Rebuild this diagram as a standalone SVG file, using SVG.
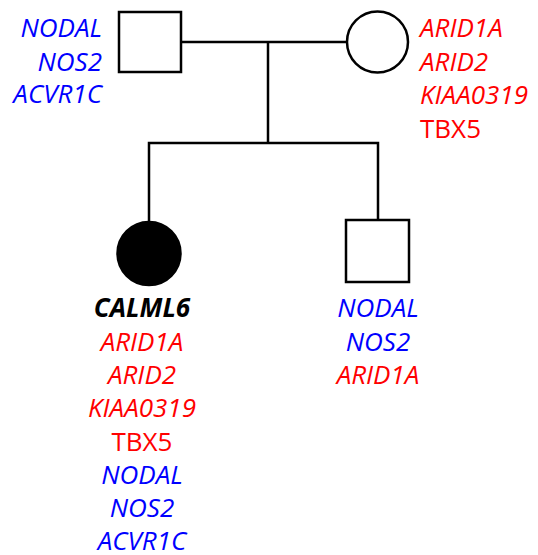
<svg xmlns="http://www.w3.org/2000/svg" width="538" height="555" viewBox="0 0 538 555">
<style>
.ln{fill:none;stroke:#000;stroke-width:2.5}
.sym{fill:#fff;stroke:#000;stroke-width:2.5}
.aff{fill:#000;stroke:#000;stroke-width:2.5}
text{font-family:"Open Sans","Liberation Sans",sans-serif;font-size:26px}
.b{fill:#0000ff;font-style:italic}
.r{fill:#ff0000;font-style:italic}
.rn{fill:#ff0000}
.k{fill:#000;font-style:italic;font-weight:bold}
</style>
<rect width="538" height="555" fill="#fff"/>
<g id="connectors">
<line class="ln" x1="181" y1="42" x2="347" y2="42"/>
<line class="ln" x1="268" y1="42" x2="268" y2="143"/>
<polyline class="ln" points="149,222 149,143 378,143 378,220"/>
</g>
<g id="father">
<rect class="sym" x="119" y="12" width="62" height="60"/>
<g text-anchor="end">
<text class="b" x="102" y="37">NODAL</text>
<text class="b" x="102" y="71">NOS2</text>
<text class="b" x="102" y="103">ACVR1C</text>
</g>
</g>
<g id="mother">
<circle class="sym" cx="377.5" cy="42" r="30.5"/>
<text class="r" x="420" y="37">ARID1A</text>
<text class="r" x="420" y="71">ARID2</text>
<text class="r" x="420" y="104">KIAA0319</text>
<text class="rn" x="420" y="138">TBX5</text>
</g>
<g id="proband">
<circle class="aff" cx="149" cy="253.5" r="31.5"/>
<g text-anchor="middle">
<text class="k" x="142" y="317">CALML6</text>
<text class="r" x="142" y="351">ARID1A</text>
<text class="r" x="142" y="384">ARID2</text>
<text class="r" x="142" y="417">KIAA0319</text>
<text class="rn" x="142" y="451">TBX5</text>
<text class="b" x="142" y="484">NODAL</text>
<text class="b" x="142" y="517">NOS2</text>
<text class="b" x="142" y="550">ACVR1C</text>
</g>
</g>
<g id="brother">
<rect class="sym" x="346" y="220" width="63" height="62"/>
<g text-anchor="middle">
<text class="b" x="378" y="317">NODAL</text>
<text class="b" x="378" y="351">NOS2</text>
<text class="r" x="378" y="384">ARID1A</text>
</g>
</g>
</svg>
